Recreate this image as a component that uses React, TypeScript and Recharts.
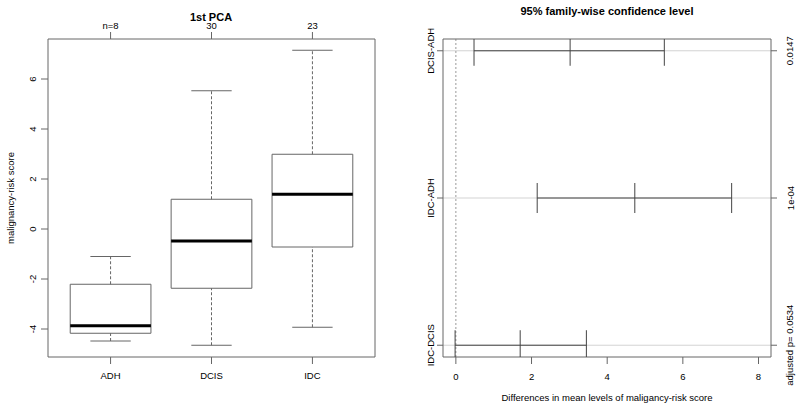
import React from 'react';
import { ComposedChart, XAxis, YAxis, ReferenceLine, ReferenceArea, Scatter } from 'recharts';

// boxplot of the 1st PCA score per lesion type
const groups = ['ADH', 'DCIS', 'IDC'];
const groupN = ['n=8', '30', '23'];
const whiskerLow = [-4.48, -4.65, -3.93];
const boxLow = [-4.17, -2.37, -0.72];
const medians = [-3.87, -0.48, 1.39];
const boxHigh = [-2.21, 1.19, 2.99];
const whiskerHigh = [-1.1, 5.53, 7.15];
const scoreTicks = [-4, -2, 0, 2, 4, 6];

// Tukey HSD comparisons
const comparisons = ['DCIS-ADH', 'IDC-ADH', 'IDC-DCIS'];
const pLabels = ['0.0147', '1e-04', 'adjusted p= 0.0534'];
const diffs = [3.02, 4.73, 1.7];
const lowers = [0.48, 2.15, -0.02];
const uppers = [5.51, 7.29, 3.45];
const diffTicks = [0, 2, 4, 6, 8];

const FONT = '"Liberation Sans", Arial, Helvetica, sans-serif';
const LINE = '#666';
const CI_LINE = '#444';
const BOX_HALF = 0.4;
const CAP_HALF = 0.2;

const groupPos = groups.map((_, i) => i + 1);
const compPos = comparisons.map((_, i) => comparisons.length - i);

const medianPoints = groups.map((_, i) => ({ pos: groupPos[i], score: medians[i] }));

const ciPoints = comparisons.flatMap((_, i) => [
  { diff: lowers[i], pos: compPos[i] },
  { diff: diffs[i], pos: compPos[i] },
  { diff: uppers[i], pos: compPos[i] },
]);

const txt = { fontFamily: FONT, fontSize: 9.5, fill: '#000' };

const RotTick = ({ y, payload, x0, labels, values }: any) => {
  const idx = values.indexOf(payload.value);
  const label = labels ? labels[idx] : String(payload.value);
  return (
    <text x={x0} y={y} transform={`rotate(-90, ${x0}, ${y})`} textAnchor="middle" {...txt}>
      {label}
    </text>
  );
};

const FlatTick = ({ x, payload, y0, labels, values }: any) => {
  const idx = values.indexOf(payload.value);
  const label = labels ? labels[idx] : String(payload.value);
  return (
    <text x={x} y={y0} textAnchor="middle" {...txt}>
      {label}
    </text>
  );
};

const TickMark = (props: any) => {
  const { cx, cy } = props;
  return <line x1={cx} x2={cx} y1={cy - 15} y2={cy + 15} stroke={CI_LINE} strokeWidth={1} />;
};

// series only there so the secondary axes get their ticks
const NoMark = () => <g />;

const Title = ({ x, y, children, bold, rotate }: any) => (
  <div
    style={{
      position: 'absolute',
      left: x,
      top: y,
      transform: `translate(-50%, -50%)${rotate ? ' rotate(-90deg)' : ''}`,
      whiteSpace: 'nowrap',
      fontFamily: FONT,
      fontSize: bold ? 11 : 9.5,
      fontWeight: bold ? 'bold' : 'normal',
      color: '#000',
      lineHeight: 1,
    }}
  >
    {children}
  </div>
);

function BoxPanel() {
  return (
    <ComposedChart width={400} height={409} margin={{ top: 0, right: 0, bottom: 0, left: 0 }}>
      <XAxis
        dataKey="pos"
        type="number"
        domain={[0.38, 3.62]}
        ticks={groupPos}
        height={52}
        tickSize={7}
        axisLine={{ stroke: LINE }}
        tickLine={{ stroke: LINE }}
        tick={<FlatTick y0={379} labels={groups} values={groupPos} />}
      />
      <XAxis
        xAxisId="top"
        dataKey="pos"
        orientation="top"
        type="number"
        domain={[0.38, 3.62]}
        ticks={groupPos}
        height={39}
        tickSize={7}
        axisLine={{ stroke: LINE }}
        tickLine={{ stroke: LINE }}
        tick={<FlatTick y0={28.5} labels={groupN} values={groupPos} />}
      />
      <YAxis
        dataKey="score"
        type="number"
        domain={[-5.12, 7.6]}
        ticks={scoreTicks}
        width={48}
        tickSize={7}
        axisLine={{ stroke: LINE }}
        tickLine={{ stroke: LINE }}
        tick={<RotTick x0={36} values={scoreTicks} />}
      />
      <YAxis
        yAxisId="right"
        dataKey="score"
        orientation="right"
        type="number"
        domain={[-5.12, 7.6]}
        width={25}
        tick={false}
        tickLine={false}
        axisLine={{ stroke: LINE }}
      />
      <Scatter data={medianPoints} shape={<NoMark />} isAnimationActive={false} />
      <Scatter
        data={medianPoints}
        xAxisId="top"
        yAxisId="right"
        shape={<NoMark />}
        isAnimationActive={false}
      />
      {groups.map((g, i) => (
        <ReferenceLine
          key={`wl-${g}`}
          segment={[{ x: groupPos[i], y: whiskerLow[i] }, { x: groupPos[i], y: boxLow[i] }]}
          stroke={LINE}
          strokeDasharray="3 2"
        />
      ))}
      {groups.map((g, i) => (
        <ReferenceLine
          key={`wh-${g}`}
          segment={[{ x: groupPos[i], y: boxHigh[i] }, { x: groupPos[i], y: whiskerHigh[i] }]}
          stroke={LINE}
          strokeDasharray="3 2"
        />
      ))}
      {groups.map((g, i) => (
        <ReferenceLine
          key={`cl-${g}`}
          segment={[
            { x: groupPos[i] - CAP_HALF, y: whiskerLow[i] },
            { x: groupPos[i] + CAP_HALF, y: whiskerLow[i] },
          ]}
          stroke={LINE}
        />
      ))}
      {groups.map((g, i) => (
        <ReferenceLine
          key={`ch-${g}`}
          segment={[
            { x: groupPos[i] - CAP_HALF, y: whiskerHigh[i] },
            { x: groupPos[i] + CAP_HALF, y: whiskerHigh[i] },
          ]}
          stroke={LINE}
        />
      ))}
      {groups.map((g, i) => (
        <ReferenceArea
          key={`box-${g}`}
          x1={groupPos[i] - BOX_HALF}
          x2={groupPos[i] + BOX_HALF}
          y1={boxLow[i]}
          y2={boxHigh[i]}
          fill="none"
          fillOpacity={0}
          stroke={LINE}
          strokeWidth={1}
        />
      ))}
      {groups.map((g, i) => (
        <ReferenceLine
          key={`med-${g}`}
          segment={[
            { x: groupPos[i] - BOX_HALF, y: medians[i] },
            { x: groupPos[i] + BOX_HALF, y: medians[i] },
          ]}
          stroke="#000"
          strokeWidth={3}
        />
      ))}
    </ComposedChart>
  );
}

function TukeyPanel() {
  return (
    <ComposedChart width={400} height={409} margin={{ top: 0, right: 0, bottom: 0, left: 0 }}>
      <XAxis
        dataKey="diff"
        type="number"
        domain={[-0.34, 8.33]}
        ticks={diffTicks}
        allowDataOverflow
        height={52}
        tickSize={7}
        axisLine={{ stroke: LINE }}
        tickLine={{ stroke: LINE }}
        tick={<FlatTick y0={380} values={diffTicks} />}
      />
      <XAxis
        xAxisId="top"
        dataKey="diff"
        orientation="top"
        type="number"
        domain={[-0.34, 8.33]}
        height={39}
        tick={false}
        tickLine={false}
        axisLine={{ stroke: LINE }}
      />
      <YAxis
        dataKey="pos"
        type="number"
        domain={[0.92, 3.08]}
        ticks={compPos}
        allowDataOverflow
        width={43}
        tickSize={6}
        axisLine={{ stroke: LINE }}
        tickLine={{ stroke: LINE }}
        tick={<RotTick x0={34} labels={comparisons} values={compPos} />}
      />
      <YAxis
        yAxisId="right"
        dataKey="pos"
        orientation="right"
        type="number"
        domain={[0.92, 3.08]}
        ticks={compPos}
        width={29}
        tickSize={6}
        axisLine={{ stroke: LINE }}
        tickLine={{ stroke: LINE }}
        tick={<RotTick x0={393.5} labels={pLabels} values={compPos} />}
      />
      {comparisons.map((c, i) => (
        <ReferenceLine key={`h-${c}`} y={compPos[i]} stroke="#d3d3d3" strokeWidth={1} />
      ))}
      <ReferenceLine x={0} stroke="#999" strokeDasharray="2 2" />
      {comparisons.map((c, i) => (
        <ReferenceLine
          key={`ci-${c}`}
          segment={[{ x: lowers[i], y: compPos[i] }, { x: uppers[i], y: compPos[i] }]}
          stroke={CI_LINE}
        />
      ))}
      <Scatter data={ciPoints} shape={<TickMark />} isAnimationActive={false} />
      <Scatter
        data={ciPoints}
        xAxisId="top"
        yAxisId="right"
        shape={<NoMark />}
        isAnimationActive={false}
      />
    </ComposedChart>
  );
}

export default function App() {
  return (
    <div style={{ position: 'absolute', left: 0, top: 0, width: 800, height: 409, background: '#fff' }}>
      <div style={{ position: 'absolute', left: 0, top: 0 }}>
        <BoxPanel />
      </div>
      <div style={{ position: 'absolute', left: 400, top: 0 }}>
        <TukeyPanel />
      </div>
      <Title x={211} y={17} bold>1st PCA</Title>
      <Title x={11} y={198} rotate>malignancy-risk score</Title>
      <Title x={607} y={11} bold>95% family-wise confidence level</Title>
      <Title x={607} y={398}>Differences in mean levels of maligancy-risk score</Title>
    </div>
  );
}
